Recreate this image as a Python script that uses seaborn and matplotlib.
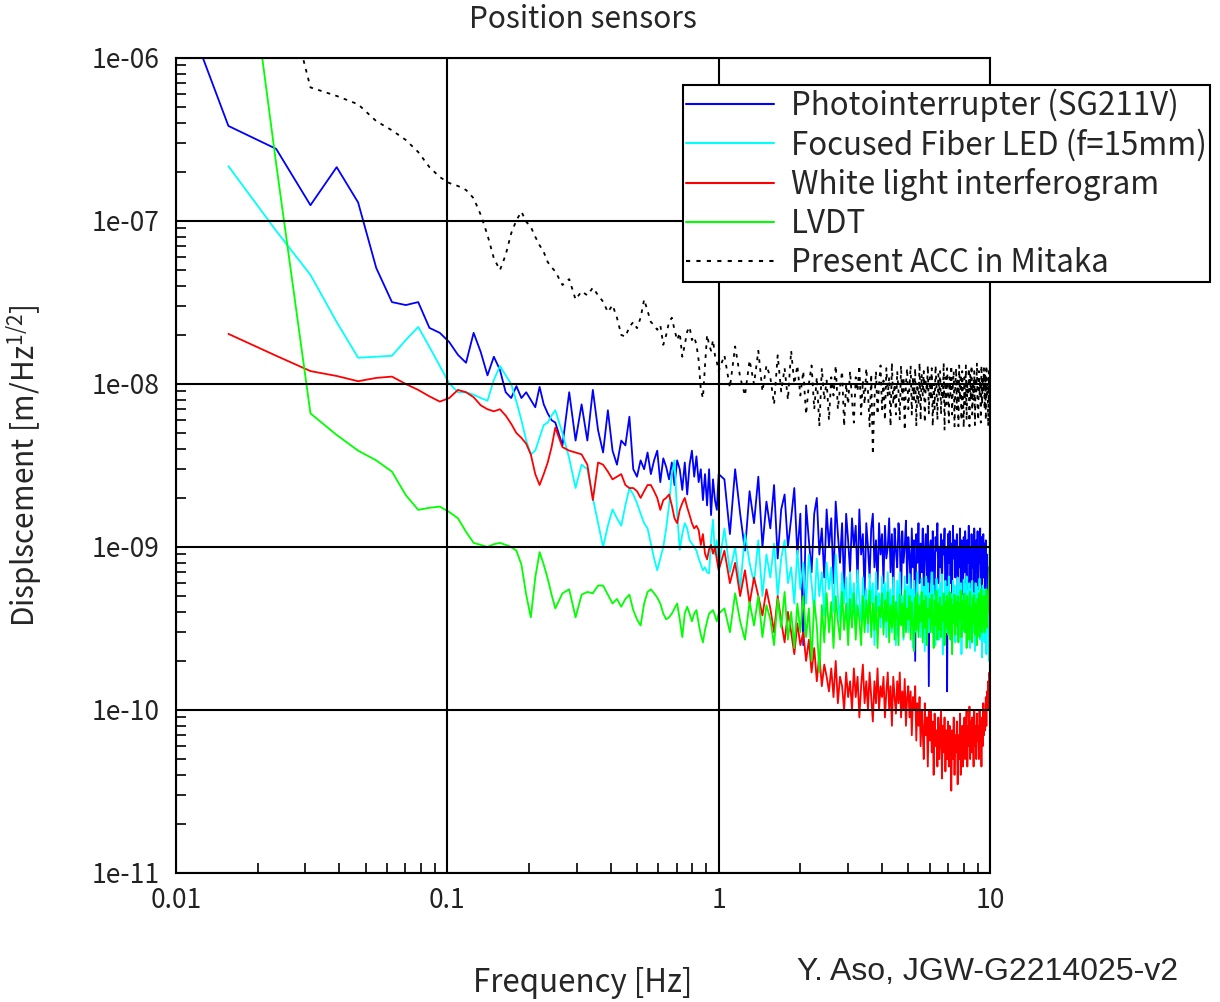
import numpy as np
import pandas as pd
import seaborn as sns
import matplotlib.pyplot as plt
from matplotlib.ticker import LogLocator, NullFormatter

# frequency bins [Hz]
freq_lo = [0.0078, 0.0156, 0.0234, 0.0313, 0.0391, 0.0469, 0.0547, 0.0625,
           0.0703, 0.0781, 0.0859, 0.0938, 0.1016, 0.1094, 0.1172, 0.125,
           0.1328, 0.1406, 0.1484, 0.1563, 0.1641, 0.1719, 0.1797, 0.1875,
           0.1953, 0.2031, 0.2109, 0.2188, 0.2266, 0.2344, 0.2422, 0.25]
freq_mid = [0.2656, 0.2813, 0.2969, 0.3125, 0.3281, 0.3438, 0.3594, 0.375,
            0.3906, 0.4063, 0.4219, 0.4375, 0.4531, 0.4688, 0.4844, 0.5,
            0.5156, 0.5313, 0.5469, 0.5625, 0.5781, 0.5938, 0.6094, 0.625,
            0.6406, 0.6563, 0.6719, 0.6875, 0.7031, 0.7188, 0.7344, 0.75,
            0.7656, 0.7813, 0.7969, 0.8125, 0.8281, 0.8438, 0.8594, 0.875,
            0.8906, 0.9063, 0.9219, 0.9375, 0.9531, 0.9688, 0.9844, 1.0]
freq_hi = [1.05, 1.1, 1.15, 1.2, 1.25, 1.3, 1.35, 1.4, 1.45, 1.5,
           1.55, 1.6, 1.65, 1.7, 1.75, 1.8, 1.85, 1.9, 1.95, 2.0,
           2.05, 2.1, 2.15, 2.2, 2.25, 2.3, 2.35, 2.4, 2.45, 2.5,
           2.55, 2.6, 2.65, 2.7, 2.75, 2.8, 2.85, 2.9, 2.95, 3.0,
           3.05, 3.1, 3.15, 3.2, 3.25, 3.3, 3.35, 3.4, 3.45, 3.5,
           3.55, 3.6, 3.65, 3.7, 3.75, 3.8, 3.85, 3.9, 3.95, 4.0,
           4.05, 4.1, 4.15, 4.2, 4.25, 4.3, 4.35, 4.4, 4.45, 4.5,
           4.55, 4.6, 4.65, 4.7, 4.75, 4.8, 4.85, 4.9, 4.95, 5.0,
           5.05, 5.1, 5.15, 5.2, 5.25, 5.3, 5.35, 5.4, 5.45, 5.5,
           5.55, 5.6, 5.65, 5.7, 5.75, 5.8, 5.85, 5.9, 5.95, 6.0,
           6.05, 6.1, 6.15, 6.2, 6.25, 6.3, 6.35, 6.4, 6.45, 6.5,
           6.55, 6.6, 6.65, 6.7, 6.75, 6.8, 6.85, 6.9, 6.95, 7.0,
           7.05, 7.1, 7.15, 7.2, 7.25, 7.3, 7.35, 7.4, 7.45, 7.5,
           7.55, 7.6, 7.65, 7.7, 7.75, 7.8, 7.85, 7.9, 7.95, 8.0,
           8.05, 8.1, 8.15, 8.2, 8.25, 8.3, 8.35, 8.4, 8.45, 8.5,
           8.55, 8.6, 8.65, 8.7, 8.75, 8.8, 8.85, 8.9, 8.95, 9.0,
           9.05, 9.1, 9.15, 9.2, 9.25, 9.3, 9.35, 9.4, 9.45, 9.5,
           9.55, 9.6, 9.65, 9.7, 9.75, 9.8, 9.85, 9.9, 9.95, 10.0]

# displacement spectra in nm/rtHz
nan = np.nan

photo_lo = [8300, 383, 277, 125, 214, 130, 51.5, 31.8,
            30.5, 31.8, 22.1, 20.6, 18.1, 15.1, 13.5, 20.6,
            15.7, 11.3, 14.7, 12.2, 8.9, 8.2, 9.7, 8.2,
            8.9, 8.0, 7.2, 9.6, 7.5, 6.6, 6.0, 5.8]
photo_mid = [4.2, 8.9, 4.5, 7.5, 4.5, 9.2, 5.2, 3.8,
             6.9, 3.9, 3.2, 4.5, 4.2, 6.3, 3.0, 2.7,
             3.4, 3.0, 3.8, 2.8, 3.4, 3.9, 2.5, 3.5,
             3.1, 2.6, 3.3, 2.4, 3.4, 3.0, 2.24, 3.3,
             2.1, 3.2, 3.9, 2.7, 3.6, 2.5, 3.0, 1.94,
             2.8, 1.8, 3.0, 1.57, 2.6, 1.94, 1.69, 2.8]
photo_hi = [2.6, 1.2, 3.0, 1.6, 0.95, 2.2, 1.4, 2.7, 1.0, 1.9,
            1.3, 2.4, 0.85, 1.7, 2.1, 1.0, 1.5, 2.3, 0.9, 1.6,
            0.25, 1.8, 1.1, 0.7, 1.6, 2.0, 0.9, 1.3, 0.65, 1.7,
            1.0, 1.5, 0.6, 1.9, 1.2, 0.8, 1.4, 0.55, 1.6, 1.1,
            0.7, 1.5, 1.0, 1.35, 0.6, 1.7, 0.9, 1.2, 0.5, 1.4,
            1.0, 0.65, 1.3, 1.6, 0.75, 1.1, 0.55, 1.4, 0.9, 1.2,
            0.6, 1.35, 0.85, 1.0, 1.5, 0.7, 1.2, 0.5, 1.3, 0.95,
            0.75, 1.4, 1.1, 0.45, 1.25, 0.8, 1.0, 1.45, 0.6, 1.15,
            0.9, 0.55, 1.3, 0.75, 1.1, 0.2, 1.2, 0.8, 1.4, 0.6,
            1.05, 0.7, 1.3, 0.5, 0.95, 1.2, 0.65, 1.35, 0.14, 1.0,
            1.1, 0.6, 1.25, 0.85, 0.5, 1.15, 0.95, 1.4, 0.6, 1.0,
            0.75, 1.2, 0.55, 1.1, 0.9, 1.3, 0.45, 1.0, 0.13, 1.2,
            0.8, 1.25, 0.6, 1.05, 0.5, 1.35, 0.85, 1.1, 0.65, 0.95,
            1.2, 0.5, 1.0, 0.75, 1.3, 0.55, 1.1, 0.9, 0.4, 1.15,
            0.7, 1.25, 0.95, 0.55, 1.1, 0.8, 1.35, 0.6, 1.0, 0.5,
            1.2, 0.75, 1.05, 0.45, 1.3, 0.85, 0.6, 1.1, 0.7, 1.25,
            0.55, 1.0, 0.8, 1.3, 0.6, 1.15, 0.5, 0.95, 1.2, 0.65,
            1.05, 0.45, 1.1, 0.7, 0.9, 0.4, 0.75, 0.35, 0.6, 0.3]

fiber_lo = [nan, 217, 87, 46.7, 24, 14.5, 14.7, 14.9,
            18.6, 22.4, 16.9, 12.9, 10.1, 8.9, 8.9, 8.6,
            8.2, 7.9, 10.6, 12.9, 11.3, 10.0, 7.8, 6.0,
            4.5, 3.7, 3.9, 4.7, 5.6, 5.8, 6.4, 6.9]
fiber_mid = [5.0, 3.5, 2.3, 3.2, 3.0, 2.0, 1.4, 1.0,
             1.35, 1.7, 1.5, 1.35, 1.8, 2.3, 2.1, 1.86,
             1.6, 1.4, 1.3, 1.05, 0.85, 0.72, 0.85, 1.0,
             1.3, 1.8, 2.8, 3.4, 1.6, 0.96, 1.2, 1.4,
             1.3, 1.1, 1.05, 1.0, 0.95, 0.85, 0.78, 0.72,
             0.75, 0.7, 0.69, 1.1, 1.47, 0.9, 1.1, 0.75]
fiber_hi = [1.3, 0.7, 1.0, 0.55, 1.2, 0.8, 0.6, 1.1, 0.5, 0.9,
            0.65, 1.05, 0.5, 0.85, 1.1, 0.6, 0.75, 0.45, 0.95, 0.55,
            0.8, 0.45, 0.9, 0.6, 0.4, 0.85, 0.5, 0.7, 0.38, 0.8,
            0.55, 0.75, 0.4, 0.9, 0.5, 0.35, 0.7, 0.45, 0.65, 0.3,
            0.7, 0.42, 0.6, 0.3, 0.72, 0.48, 0.35, 0.65, 0.4, 0.55,
            0.3, 0.68, 0.45, 0.6, 0.25, 0.7, 0.4, 0.52, 0.32, 0.66,
            0.45, 0.6, 0.28, 0.7, 0.38, 0.55, 0.3, 0.65, 0.42, 0.25,
            0.62, 0.35, 0.7, 0.4, 0.5, 0.27, 0.66, 0.36, 0.58, 0.3,
            0.68, 0.4, 0.55, 0.24, 0.62, 0.45, 0.3, 0.7, 0.38, 0.5,
            0.28, 0.64, 0.42, 0.57, 0.23, 0.66, 0.35, 0.6, 0.3, 0.52,
            0.44, 0.7, 0.3, 0.58, 0.38, 0.25, 0.64, 0.4, 0.55, 0.27,
            0.6, 0.36, 0.68, 0.22, 0.5, 0.42, 0.62, 0.3, 0.57, 0.34,
            0.66, 0.3, 0.52, 0.4, 0.24, 0.62, 0.37, 0.58, 0.26, 0.5,
            0.44, 0.65, 0.28, 0.56, 0.36, 0.6, 0.22, 0.5, 0.4, 0.63,
            0.3, 0.58, 0.42, 0.66, 0.26, 0.5, 0.35, 0.6, 0.24, 0.55,
            0.4, 0.62, 0.3, 0.52, 0.44, 0.23, 0.6, 0.36, 0.57, 0.28,
            0.5, 0.34, 0.64, 0.27, 0.55, 0.4, 0.21, 0.58, 0.33, 0.48,
            0.26, 0.55, 0.38, 0.22, 0.5, 0.3, 0.45, 0.2, 0.35, 0.19]

white_lo = [nan, 20.3, 14.9, 12.0, 11.2, 10.4, 10.9, 11.1,
            10.0, 9.2, 8.4, 7.8, 8.2, 9.2, 8.9, 8.3,
            7.4, 7.0, 6.8, 7.0, 6.4, 5.7, 5.0, 4.67,
            4.3, 3.7, 2.8, 2.4, 2.8, 3.3, 4.1, 5.4]
white_mid = [4.1, 3.9, 3.8, 3.7, 3.2, 1.94, 3.3, 3.2,
             2.9, 2.6, 2.7, 2.8, 2.4, 2.3, 2.3, 2.2,
             2.0, 2.2, 2.4, 2.4, 2.2, 2.0, 1.69, 1.94,
             2.0, 2.1, 1.8, 1.5, 1.4, 1.69, 1.86, 2.0,
             1.75, 1.57, 1.4, 1.3, 1.35, 1.27, 1.03, 1.2,
             0.91, 0.84, 0.97, 1.03, 0.91, 1.0, 0.84, 0.72]
white_hi = [0.95, 0.6, 0.8, 0.5, 0.72, 0.45, 0.65, 0.5, 0.38, 0.55,
            0.42, 0.3, 0.5, 0.35, 0.26, 0.4, 0.3, 0.22, 0.34, 0.25,
            0.3, 0.2, 0.27, 0.17, 0.24, 0.15, 0.22, 0.14, 0.19, 0.16,
            0.13, 0.18, 0.12, 0.2, 0.11, 0.16, 0.14, 0.1, 0.17, 0.12,
            0.15, 0.1, 0.18, 0.12, 0.16, 0.09, 0.14, 0.19, 0.11, 0.15,
            0.1, 0.17, 0.12, 0.085, 0.15, 0.11, 0.18, 0.1, 0.14, 0.12,
            0.16, 0.09, 0.13, 0.17, 0.1, 0.14, 0.08, 0.16, 0.12, 0.095,
            0.15, 0.11, 0.17, 0.09, 0.13, 0.1, 0.155, 0.08, 0.12, 0.14,
            0.09, 0.13, 0.07, 0.12, 0.1, 0.14, 0.065, 0.11, 0.08, 0.12,
            0.06, 0.1, 0.075, 0.05, 0.11, 0.07, 0.09, 0.045, 0.1, 0.065,
            0.1, 0.055, 0.085, 0.04, 0.095, 0.06, 0.075, 0.045, 0.09, 0.05,
            0.07, 0.1, 0.038, 0.08, 0.055, 0.09, 0.042, 0.075, 0.05, 0.085,
            0.045, 0.08, 0.06, 0.032, 0.075, 0.05, 0.09, 0.04, 0.07, 0.055,
            0.085, 0.035, 0.07, 0.05, 0.095, 0.04, 0.065, 0.08, 0.045, 0.06,
            0.09, 0.05, 0.075, 0.1, 0.045, 0.08, 0.06, 0.105, 0.05, 0.085,
            0.055, 0.09, 0.07, 0.045, 0.1, 0.06, 0.08, 0.05, 0.095, 0.065,
            0.08, 0.05, 0.1, 0.065, 0.085, 0.045, 0.09, 0.06, 0.11, 0.07,
            0.1, 0.075, 0.12, 0.08, 0.13, 0.1, 0.15, 0.11, 0.17, 0.14]

lvdt_lo = [nan, 38000, 224, 6.6, 4.87, 3.9, 3.4, 2.9,
           2.08, 1.69, 1.74, 1.77, 1.64, 1.5, 1.24, 1.06,
           1.03, 1.0, 1.04, 1.06, 1.03, 1.0, 0.95, 0.78,
           0.51, 0.37, 0.65, 0.93, 0.78, 0.64, 0.51, 0.42]
lvdt_mid = [0.52, 0.55, 0.37, 0.51, 0.53, 0.52, 0.58, 0.58,
            0.51, 0.45, 0.48, 0.43, 0.48, 0.51, 0.41, 0.36,
            0.33, 0.45, 0.53, 0.55, 0.52, 0.49, 0.45, 0.39,
            0.36, 0.37, 0.39, 0.42, 0.45, 0.36, 0.28, 0.39,
            0.43, 0.39, 0.35, 0.39, 0.41, 0.34, 0.29, 0.26,
            0.31, 0.35, 0.39, 0.4, 0.41, 0.38, 0.35, 0.39]
lvdt_hi = [0.42, 0.3, 0.52, 0.35, 0.27, 0.46, 0.33, 0.5, 0.28, 0.44,
           0.36, 0.25, 0.48, 0.32, 0.53, 0.27, 0.4, 0.24, 0.45, 0.3,
           0.5, 0.28, 0.42, 0.2, 0.47, 0.33, 0.17, 0.44, 0.26, 0.52,
           0.3, 0.46, 0.24, 0.5, 0.35, 0.27, 0.53, 0.31, 0.45, 0.25,
           0.48, 0.32, 0.52, 0.27, 0.44, 0.36, 0.25, 0.5, 0.3, 0.47,
           0.34, 0.54, 0.28, 0.45, 0.31, 0.5, 0.24, 0.43, 0.37, 0.52,
           0.29, 0.47, 0.35, 0.53, 0.26, 0.44, 0.32, 0.5, 0.27, 0.46,
           0.38, 0.25, 0.51, 0.33, 0.45, 0.28, 0.54, 0.3, 0.42, 0.36,
           0.5, 0.27, 0.46, 0.34, 0.23, 0.49, 0.31, 0.52, 0.28, 0.44,
           0.35, 0.53, 0.26, 0.47, 0.32, 0.5, 0.25, 0.42, 0.37, 0.48,
           0.3, 0.51, 0.36, 0.24, 0.47, 0.33, 0.54, 0.27, 0.45, 0.31,
           0.49, 0.28, 0.43, 0.35, 0.52, 0.25, 0.46, 0.32, 0.5, 0.29,
           0.37, 0.53, 0.27, 0.48, 0.22, 0.44, 0.34, 0.51, 0.29, 0.46,
           0.33, 0.5, 0.26, 0.45, 0.36, 0.54, 0.28, 0.47, 0.31, 0.43,
           0.52, 0.3, 0.46, 0.24, 0.5, 0.35, 0.44, 0.27, 0.53, 0.32,
           0.42, 0.26, 0.49, 0.34, 0.51, 0.29, 0.45, 0.37, 0.25, 0.48,
           0.33, 0.52, 0.28, 0.46, 0.36, 0.55, 0.3, 0.47, 0.34, 0.5,
           0.3, 0.49, 0.36, 0.55, 0.32, 0.5, 0.4, 0.6, 0.8, 1.5]

acc_lo = [nan, nan, 4400, 660, 585, 520, 410, 360,
          314, 265, 214, 186, 171, 164, 155, 138,
          109, 82, 59, 50, 62, 84, 101, 114,
          99, 92, 80, 71, 64.5, 56, 52, 49]
acc_mid = [40.5, 44, 33, 37, 35, 39, 35, 32,
           27.6, 30.5, 25.5, 20, 19.5, 22.4, 24, 22,
           25.5, 33, 28, 24, 23, 21.5, 23, 17.4,
           20, 24, 25.5, 21.5, 18.6, 20.6, 14.7, 17.4,
           21, 22.4, 18.6, 19.5, 17.4, 14, 9.2, 8.2,
           13, 20, 17.4, 16, 18.6, 15, 13.6, 12]
acc_hi = [15, 9.5, 17, 11, 8.5, 14, 10, 16, 9, 13,
          11, 7.5, 15, 9, 12.5, 8, 16, 10, 13, 8.5,
          12, 6.5, 10, 13, 7, 11, 5.5, 12.5, 8, 10.5,
          6, 11, 8.5, 13, 7, 9.5, 12, 5.5, 10, 7.5,
          12, 8, 5.8, 11, 9, 13, 6.5, 10.5, 7.5, 12.5,
          9, 5.5, 11.5, 3.7, 8, 12, 6.5, 10, 13, 7,
          10.5, 6, 12.5, 8.5, 11, 5.5, 13.5, 7.5, 10, 6.5,
          12, 9, 6, 13, 8, 11, 5.2, 10, 12.5, 7,
          9.5, 13, 6.5, 11, 8, 12.5, 5.5, 10, 7.5, 13.5,
          6, 11.5, 8.5, 12, 5.8, 10.5, 9, 13, 6.5, 11,
          8, 12.5, 5.5, 10, 7, 13, 9.5, 6, 11.5, 8.5,
          12, 6.5, 10.5, 8, 13.5, 5.2, 11, 7.5, 12.5, 9,
          5.8, 11, 8.5, 13, 6.5, 10, 12, 5.5, 9.5, 12.5,
          7, 10.5, 5.5, 13, 8, 11.5, 6, 12, 9, 5.4,
          11, 7.5, 13, 6, 10, 8.5, 12.5, 5.5, 11.5, 8,
          13, 6.5, 10, 8, 12, 5.6, 11, 9, 13.5, 7,
          6, 12, 8.5, 10.5, 5.8, 13, 7.5, 11, 9, 12.5,
          7, 11.5, 6, 13, 8.5, 10, 5.5, 12, 7.5, 14]

freq = freq_lo + freq_mid + freq_hi

sensors = [
    ('Photointerrupter (SG211V)', photo_lo + photo_mid + photo_hi, '#0000ff', '-'),
    ('Focused Fiber LED (f=15mm)', fiber_lo + fiber_mid + fiber_hi, '#00ffff', '-'),
    ('White light interferogram', white_lo + white_mid + white_hi, '#ff0000', '-'),
    ('LVDT', lvdt_lo + lvdt_mid + lvdt_hi, '#00ff00', '-'),
    ('Present ACC in Mitaka', acc_lo + acc_mid + acc_hi, 'black', (0, (2, 3))),
]

sns.set_theme(style='white')
plt.rcParams['font.family'] = ['Noto Sans CJK JP', 'DejaVu Sans']
plt.rcParams['mathtext.default'] = 'regular'

fig, ax = plt.subplots(figsize=(12.2, 10.02), dpi=100)
fig.subplots_adjust(left=176/1220, right=990/1220, top=1-58/1002, bottom=1-873/1002)
ax.set_xscale('log')
ax.set_yscale('log')

for name, vals, color, ls in sensors:
    df = pd.DataFrame({'freq': freq, 'asd': np.array(vals) * 1e-9})
    sns.lineplot(data=df, x='freq', y='asd', color=color, linestyle=ls,
                 linewidth=1.3, label=name, estimator=None, sort=False, ax=ax)

ax.set_xlim(0.01, 10)
ax.set_ylim(1e-11, 1e-6)
ax.set_xticks([0.01, 0.1, 1, 10], ['0.01', '0.1', '1', '10'])
ax.set_yticks([1e-11, 1e-10, 1e-9, 1e-8, 1e-7, 1e-6],
              ['1e-11', '1e-10', '1e-09', '1e-08', '1e-07', '1e-06'])
ax.xaxis.set_minor_locator(LogLocator(base=10, subs=np.arange(2, 10)))
ax.yaxis.set_minor_locator(LogLocator(base=10, subs=np.arange(2, 10)))
ax.xaxis.set_minor_formatter(NullFormatter())
ax.yaxis.set_minor_formatter(NullFormatter())

ax.grid(True, which='major', color='black', linewidth=1.5)
ax.grid(False, which='minor')
ax.set_axisbelow(False)
for sp in ax.spines.values():
    sp.set_color('black')
    sp.set_linewidth(1.5)
ax.tick_params(which='major', length=0, labelsize=19, colors='#222222')
ax.tick_params(axis='x', which='major', pad=10)
ax.tick_params(axis='y', which='major', pad=12)
ax.tick_params(which='minor', direction='in', length=7, width=1.2, color='black',
               bottom=True, left=True, top=False, right=False)

ax.set_xlabel('Frequency [Hz]', fontsize=22.5, va='center')
ax.xaxis.set_label_coords(0.5, (873-983)/815)
ax.set_ylabel(r'Displscement [m/Hz$^{1/2}$]', fontsize=21.5, va='center')
ax.yaxis.set_label_coords((25-176)/814, 0.5)

fig.text(583/1220, 1-19/1002, 'Position sensors', ha='center', va='center', fontsize=21.5)
fig.text(797/1220, 1-972/1002, 'Y. Aso, JGW-G2214025-v2', ha='left', va='center',
         fontsize=23, family=['Liberation Sans Narrow', 'Liberation Sans'])

leg = ax.legend(loc='upper left', bbox_to_anchor=(683/1220, 1-85/1002),
                bbox_transform=fig.transFigure, fontsize=22.5, frameon=True,
                fancybox=False, framealpha=1, edgecolor='black', borderpad=0.1,
                labelspacing=0.22, handlelength=2.8, handletextpad=0.55, borderaxespad=0)
leg.get_frame().set_linewidth(1.5)
for line in leg.get_lines():
    line.set_linewidth(1.5)

fig.savefig('out.png', dpi=100)
